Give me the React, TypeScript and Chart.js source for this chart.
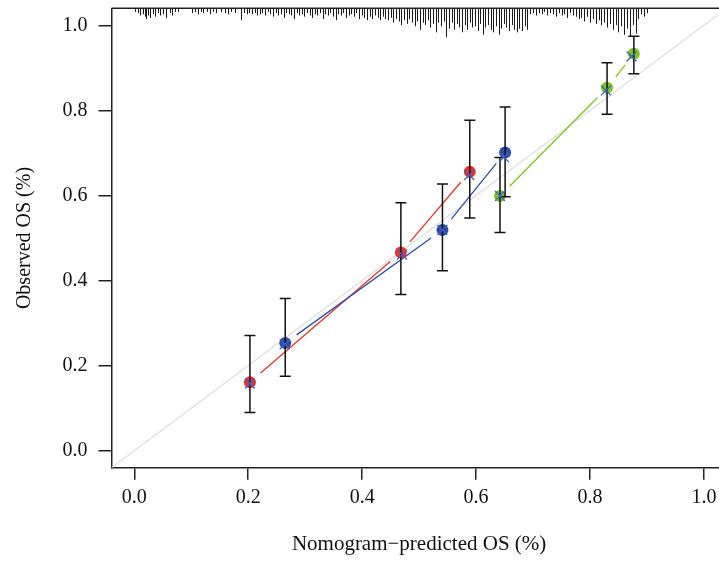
import React, { useEffect, useRef } from "react";
import { Chart, registerables } from "chart.js";

Chart.register(...registerables);

// ---------- data ----------
const tickValues = [0, 0.2, 0.4, 0.6, 0.8, 1.0];
const tickLabels = ["0.0", "0.2", "0.4", "0.6", "0.8", "1.0"];

const xTitle = "Nomogram\u2212predicted OS (%)";
const yTitle = "Observed OS (%)";

// group 1 (red)
const redPredicted = [0.203, 0.468, 0.589];
const redObserved = [0.161, 0.466, 0.656];
const redLower = [0.09, 0.367, 0.547];
const redUpper = [0.271, 0.583, 0.777];
const redCorrectedX = [0.203, 0.47, 0.588];
const redCorrectedY = [0.158, 0.461, 0.648];

// group 2 (blue)
const bluePredicted = [0.265, 0.541, 0.651];
const blueObserved = [0.253, 0.519, 0.701];
const blueLower = [0.175, 0.423, 0.597];
const blueUpper = [0.358, 0.627, 0.808];
const blueCorrectedX = [0.264, 0.541, 0.649];
const blueCorrectedY = [0.25, 0.519, 0.69];

// group 3 (green)
const greenPredicted = [0.642, 0.83, 0.877];
const greenObserved = [0.599, 0.853, 0.933];
const greenLower = [0.513, 0.791, 0.886];
const greenUpper = [0.689, 0.912, 0.974];
const greenCorrectedX = [0.642, 0.828, 0.873];
const greenCorrectedY = [0.599, 0.847, 0.927];

// spike histogram of predicted values (position, frequency)
const rugX = [
  0.002, 0.006, 0.01, 0.015, 0.018, 0.02, 0.024, 0.028, 0.032, 0.037, 0.041, 0.045, 0.051, 0.055, 0.063, 0.067, 0.072, 0.076,
  0.101, 0.107, 0.111, 0.117, 0.121, 0.127, 0.133, 0.139, 0.143, 0.153, 0.159, 0.165, 0.17, 0.177, 0.187, 0.193, 0.197, 0.201, 0.206, 0.212, 0.216,
  0.22, 0.225, 0.229, 0.234, 0.238, 0.243, 0.248, 0.252, 0.257, 0.262, 0.266, 0.271, 0.275, 0.28, 0.285, 0.289, 0.294, 0.298, 0.303, 0.308,
  0.312, 0.317, 0.321, 0.326, 0.331, 0.335, 0.34, 0.344, 0.349, 0.354, 0.358, 0.363, 0.367, 0.372, 0.377, 0.381, 0.386, 0.39, 0.395, 0.4,
  0.404, 0.409, 0.413, 0.418, 0.423, 0.427, 0.432, 0.436, 0.441,
  0.446, 0.451, 0.455, 0.46, 0.465, 0.469, 0.474, 0.478, 0.483, 0.488, 0.492, 0.497, 0.501, 0.506, 0.511, 0.515, 0.52, 0.524, 0.529, 0.534,
  0.538, 0.543, 0.547, 0.552, 0.557, 0.561, 0.566, 0.57, 0.575, 0.58, 0.584, 0.589, 0.593, 0.598, 0.603, 0.607, 0.612, 0.616, 0.621, 0.626,
  0.63, 0.635, 0.64, 0.644, 0.649, 0.653, 0.658, 0.663, 0.667, 0.672, 0.676, 0.681, 0.686, 0.69,
  0.695, 0.7, 0.705, 0.71, 0.715, 0.72, 0.725, 0.73, 0.735, 0.74, 0.745, 0.75, 0.755, 0.76, 0.765, 0.77, 0.775, 0.78,
  0.785, 0.79, 0.795, 0.8, 0.805, 0.81, 0.815, 0.82, 0.825, 0.83, 0.835, 0.84, 0.845, 0.85, 0.855, 0.86, 0.865, 0.87, 0.875, 0.88, 0.885, 0.89, 0.895, 0.9,
];
const rugN = [
  3, 4, 6, 5, 7, 9, 6, 8, 5, 7, 4, 6, 5, 8, 4, 6, 3, 3,
  4, 3, 5, 3, 4, 3, 5, 3, 4, 3, 4, 5, 3, 4, 10, 4, 5, 4, 5, 4, 6,
  5, 4, 6, 3, 5, 7, 4, 6, 5, 8, 4, 5, 6, 9, 4, 6, 5, 7, 4, 6,
  8, 5, 6, 4, 9, 5, 6, 4, 7, 10, 5, 6, 4, 8, 6, 5, 7, 4, 9, 6,
  8, 10, 7, 9, 6, 8, 10, 7, 9,
  10, 8, 12, 9, 11, 14, 10, 13, 9, 12, 15, 11, 18, 12, 14, 10, 16, 13, 20, 12,
  15, 11, 24, 17, 12, 18, 13, 16, 20, 14, 18, 12, 16, 15, 19, 13, 22, 16, 14, 18,
  20, 15, 22, 17, 13, 16, 19, 14, 18, 20, 17, 19, 15, 18,
  5, 4, 6, 4, 5, 3, 6, 4, 5, 7, 4, 6, 5, 8, 4, 6, 7, 9,
  8, 11, 7, 12, 9, 13, 10, 14, 12, 16, 13, 18, 14, 20, 15, 22, 17, 24, 14, 21, 9, 5, 7, 4,
];

// ---------- styles ----------
const RED = "#e5352b";
const BLUE = "#2d4ea6";
const GREEN = "#7fc31f";
const CROSS = "#3f5fc9";
const FONT = "'Liberation Serif', 'DejaVu Serif', serif";
const RUG_PX_PER_COUNT = 1.2;

type Group = {
  color: string;
  px: number[];
  py: number[];
  lo: number[];
  hi: number[];
};

const groups: Record<string, Group> = {
  red: { color: RED, px: redPredicted, py: redObserved, lo: redLower, hi: redUpper },
  blue: { color: BLUE, px: bluePredicted, py: blueObserved, lo: blueLower, hi: blueUpper },
  green: { color: GREEN, px: greenPredicted, py: greenObserved, lo: greenLower, hi: greenUpper },
};

const toPts = (xs: number[], ys: number[]) => xs.map((v, i) => ({ x: v, y: ys[i] }));

const calibPlugin = {
  id: "calibPlugin",
  beforeDatasetsDraw(chart: any) {
    const { ctx, chartArea } = chart;
    const x = chart.scales.x;
    ctx.save();
    ctx.strokeStyle = "#1a1a1a";
    ctx.lineWidth = 1;
    ctx.beginPath();
    for (let i = 0; i < rugX.length; i++) {
      const p = Math.round(x.getPixelForValue(rugX[i])) + 0.5;
      ctx.moveTo(p, chartArea.top);
      ctx.lineTo(p, chartArea.top + rugN[i] * RUG_PX_PER_COUNT);
    }
    ctx.stroke();
    ctx.restore();
  },
  afterDatasetDraw(chart: any, args: any) {
    const ds = chart.data.datasets[args.index];
    const { ctx } = chart;
    const x = chart.scales.x;
    const y = chart.scales.y;
    if (ds.label === "diagonal") {
      ctx.save();
      ctx.lineWidth = 1.3;
      const gap = 14;
      Object.values(groups).forEach((g) => {
        ctx.strokeStyle = g.color;
        ctx.beginPath();
        for (let i = 0; i < g.px.length - 1; i++) {
          const x1 = x.getPixelForValue(g.px[i]);
          const y1 = y.getPixelForValue(g.py[i]);
          const x2 = x.getPixelForValue(g.px[i + 1]);
          const y2 = y.getPixelForValue(g.py[i + 1]);
          const d = Math.hypot(x2 - x1, y2 - y1);
          if (d <= 2 * gap) continue;
          const ux = (x2 - x1) / d;
          const uy = (y2 - y1) / d;
          ctx.moveTo(x1 + ux * gap, y1 + uy * gap);
          ctx.lineTo(x2 - ux * gap, y2 - uy * gap);
        }
        ctx.stroke();
      });
      ctx.restore();
    }
    const g = groups[ds.label];
    if (g) {
      ctx.save();
      ctx.strokeStyle = "#111";
      ctx.lineWidth = 1.5;
      ctx.beginPath();
      for (let i = 0; i < g.px.length; i++) {
        const px = x.getPixelForValue(g.px[i]);
        const pl = y.getPixelForValue(g.lo[i]);
        const ph = y.getPixelForValue(g.hi[i]);
        ctx.moveTo(px, pl);
        ctx.lineTo(px, ph);
        ctx.moveTo(px - 5.5, pl);
        ctx.lineTo(px + 5.5, pl);
        ctx.moveTo(px - 5.5, ph);
        ctx.lineTo(px + 5.5, ph);
      }
      ctx.stroke();
      ctx.restore();
    }
  },
  afterDraw(chart: any) {
    const { ctx, chartArea } = chart;
    ctx.save();
    ctx.strokeStyle = "#222";
    ctx.lineWidth = 1.5;
    ctx.beginPath();
    ctx.moveTo(chartArea.left, chartArea.top);
    ctx.lineTo(chartArea.right, chartArea.top);
    ctx.stroke();
    ctx.restore();
  },
};

const CANVAS_W = 735;
const CANVAS_H = 563;

export default function App() {
  const ref = useRef<HTMLCanvasElement | null>(null);

  useEffect(() => {
    if (!ref.current) return;
    const dotDs = (label: string, xs: number[], ys: number[], color: string) => ({
      type: "scatter" as const,
      label,
      data: toPts(xs, ys),
      pointStyle: "circle",
      pointRadius: 6,
      pointBackgroundColor: color,
      pointBorderColor: color,
      pointBorderWidth: 0,
      showLine: false,
      order: 2,
    });
    const crossDs = (label: string, xs: number[], ys: number[]) => ({
      type: "scatter" as const,
      label,
      data: toPts(xs, ys),
      pointStyle: "crossRot",
      pointRadius: 7,
      pointBorderColor: CROSS,
      pointBorderWidth: 1.3,
      showLine: false,
      order: 1,
    });
    const chart = new Chart(ref.current, {
      type: "scatter",
      data: {
        datasets: [
          {
            type: "line",
            label: "diagonal",
            data: [
              { x: -0.04, y: -0.04 },
              { x: 1.04, y: 1.04 },
            ],
            borderColor: "#dcdcdc",
            borderWidth: 1.2,
            pointRadius: 0,
            order: 3,
          } as any,
          dotDs("red", redPredicted, redObserved, RED),
          dotDs("blue", bluePredicted, blueObserved, BLUE),
          dotDs("green", greenPredicted, greenObserved, GREEN),
          crossDs("redX", redCorrectedX, redCorrectedY),
          crossDs("blueX", blueCorrectedX, blueCorrectedY),
          crossDs("greenX", greenCorrectedX, greenCorrectedY),
        ] as any,
      },
      options: {
        responsive: false,
        animation: false,
        devicePixelRatio: 1,
        layout: { padding: { top: 7, right: CANVAS_W - 728.4, left: 0, bottom: 0 } },
        plugins: { legend: { display: false }, tooltip: { enabled: false } },
        scales: {
          x: {
            type: "linear",
            min: -0.04,
            max: 1.04,
            afterBuildTicks: (s: any) => {
              s.ticks = tickValues.map((v) => ({ value: v }));
            },
            afterFit: (s: any) => {
              s.height = CANVAS_H - 467.7;
              s.paddingLeft = 0;
              s.paddingRight = 0;
              s.paddingTop = 0;
              s.paddingBottom = 0;
            },
            ticks: {
              autoSkip: false,
              maxRotation: 0,
              padding: 6,
              color: "#111",
              font: { family: FONT, size: 20 },
              callback: (_v: any, i: number) => tickLabels[i],
            },
            grid: { drawOnChartArea: false, drawTicks: true, tickLength: 12, color: "#222", lineWidth: 1.5 },
            border: { display: true, color: "#222", width: 1.5 },
            title: {
              display: true,
              text: xTitle,
              color: "#111",
              font: { family: FONT, size: 21 },
              padding: { top: 0, bottom: 6 },
            },
          },
          y: {
            type: "linear",
            min: -0.04,
            max: 1.04,
            afterBuildTicks: (s: any) => {
              s.ticks = tickValues.map((v) => ({ value: v }));
            },
            afterFit: (s: any) => {
              s.width = 111.5;
              s.paddingLeft = 0;
              s.paddingRight = 0;
              s.paddingTop = 0;
              s.paddingBottom = 0;
            },
            ticks: {
              autoSkip: false,
              padding: 11,
              color: "#111",
              font: { family: FONT, size: 20 },
              callback: (_v: any, i: number) => tickLabels[i],
            },
            grid: { drawOnChartArea: false, drawTicks: true, tickLength: 13, color: "#222", lineWidth: 1.5 },
            border: { display: true, color: "#222", width: 1.5 },
            title: {
              display: true,
              text: yTitle,
              color: "#111",
              font: { family: FONT, size: 20 },
              padding: { top: 13, bottom: 0 },
            },
          },
        },
      },
      plugins: [calibPlugin],
    } as any);
    return () => chart.destroy();
  }, []);

  return (
    <div
      style={{
        position: "absolute",
        left: 0,
        top: 0,
        width: 719,
        height: 563,
        overflow: "hidden",
        background: "#fff",
      }}
    >
      <canvas
        ref={ref}
        width={CANVAS_W}
        height={CANVAS_H}
        style={{ width: CANVAS_W, height: CANVAS_H, display: "block" }}
      />
    </div>
  );
}
